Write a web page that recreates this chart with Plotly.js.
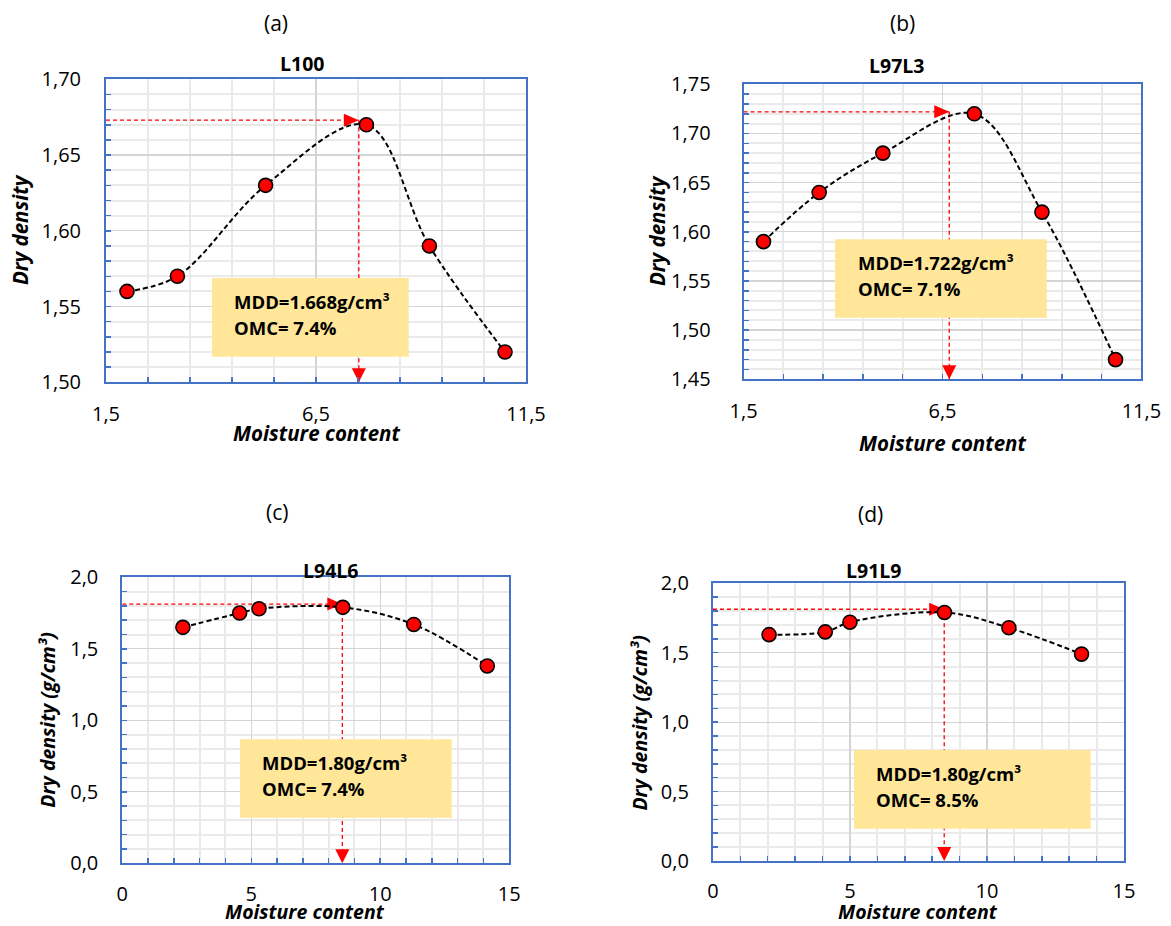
<!DOCTYPE html>
<html>
<head>
<meta charset="utf-8">
<script src="https://cdn.plot.ly/plotly-3.0.1.min.js"></script>
<style>
  html, body { margin: 0; padding: 0; background: #ffffff; }
  #chart { width: 1171px; height: 926px; }
</style>
</head>
<body>
<div id="chart"></div>
<script>
// Proctor compaction curves: dry density against moisture content for four mixes
const mixes = ['L100', 'L97L3', 'L94L6', 'L91L9'];
const panelTags = ['(a)', '(b)', '(c)', '(d)'];

const moistureL100 = [2.0, 3.2, 5.3, 7.7, 9.2, 11.0];
const densityL100  = [1.56, 1.57, 1.63, 1.67, 1.59, 1.52];

const moistureL97L3 = [2.0, 3.4, 5.0, 7.3, 9.0, 10.85];
const densityL97L3  = [1.59, 1.64, 1.68, 1.72, 1.62, 1.47];

const moistureL94L6 = [2.35, 4.55, 5.3, 8.55, 11.3, 14.15];
const densityL94L6  = [1.65, 1.75, 1.78, 1.79, 1.67, 1.38];

const moistureL91L9 = [2.05, 4.1, 5.0, 8.45, 10.8, 13.45];
const densityL91L9  = [1.63, 1.65, 1.72, 1.79, 1.68, 1.49];

// Optimum read-off guides (dry density level, moisture level)
const mddGuide = [1.673, 1.722, 1.813, 1.813];
const omcGuide = [7.52, 6.67, 8.53, 8.44];

// Result boxes
const mddText = ['1.668', '1.722', '1.80', '1.80'];
const omcText = ['7.4', '7.1', '7.4', '8.5'];

// Axes
const xTitles = ['Moisture content', 'Moisture content', 'Moisture content', 'Moisture content'];
const yTitles = ['Dry density', 'Dry density', 'Dry density (g/cm³)', 'Dry density (g/cm³)'];
const xRanges = [[1.5, 11.5], [1.5, 11.5], [0, 15], [0, 15]];
const yRanges = [[1.50, 1.70], [1.45, 1.75], [0, 2], [0, 2]];
const xMajor = [5, 5, 5, 5];
const xMinor = [1, 1, 1, 1];
const yMajor = [0.05, 0.05, 0.5, 0.5];
const yMinor = [0.01, 0.01, 0.1, 0.1];
const xFormats = ['.1f', '.1f', 'd', 'd'];
const yFormats = ['.2f', '.2f', '.1f', '.1f'];

const moisture = [moistureL100, moistureL97L3, moistureL94L6, moistureL91L9];
const density = [densityL100, densityL97L3, densityL94L6, densityL91L9];

// ---- layout geometry (pixels in a 1171 x 926 page) ----
const W = 1171, H = 926;
const fx = x => x / W;
const fy = y => 1 - y / H;

const frames = [
  { l: 106,   r: 526,    t: 79.3,  b: 382.3 },
  { l: 743.6, r: 1141.4, t: 84.3,  b: 379.3 },
  { l: 122.3, r: 509.2,  t: 577.3, b: 863.3 },
  { l: 712.9, r: 1124,   t: 583.3, b: 861 }
];
const tagPos    = [[276, 23], [902, 23], [277, 512], [870, 514]];
const namePos   = [[301.7, 64], [896.9, 65], [330, 570], [873.2, 570]];
const xTitlePos = [[316, 433.3], [942.7, 443.3], [305, 911.5], [918, 911.5]];
const yTitlePos = [[20, 230], [657, 231], [46.7, 720], [639.3, 723.3]];
const titleSize = [20.5, 20.5, 19.5, 19.5];
const boxRects  = [[212, 278, 408.7, 356.7], [834.9, 239.3, 1046.7, 317.7],
                   [240, 739.3, 451.7, 817.7], [854, 750, 1090.7, 828.7]];
const boxLines  = [[231.7, 301.7, 327.3], [855.5, 262.7, 288.3],
                   [260, 762.7, 788.3], [874, 773.3, 799.3]];
const yLabelGap = [19, 27, 18, 18];
const xLabelGap = [13, 13, 12, 11];

const FONT = 'Open Sans, sans-serif';
const BLUE = '#4472C4';
const RED = '#FF0000';

const traces = [];
const shapes = [];
const annotations = [];
const layout = {
  width: W, height: H,
  margin: { l: 0, r: 0, t: 0, b: 0 },
  paper_bgcolor: '#ffffff',
  plot_bgcolor: '#ffffff',
  showlegend: false,
  separators: ', ',
  font: { family: FONT, color: '#000000' }
};

for (let i = 0; i < 4; i++) {
  const sfx = i === 0 ? '' : String(i + 1);
  const xa = 'x' + sfx, ya = 'y' + sfx;
  const f = frames[i];

  const common = {
    ticks: 'inside', ticklen: 5, tickwidth: 1.5, tickcolor: BLUE,
    showline: true, linecolor: BLUE, linewidth: 2, mirror: true,
    showgrid: true, gridcolor: '#D4D4D4', gridwidth: 1.3,
    zeroline: false, fixedrange: true,
    tickfont: { family: FONT, size: 20, color: '#000000' }
  };
  const minorGrid = { ticks: 'inside', ticklen: 5, tickwidth: 1.5, tickcolor: BLUE,
                      showgrid: true, gridcolor: '#EAEAEA', gridwidth: 2 };

  layout['xaxis' + sfx] = Object.assign({}, common, {
    domain: [fx(f.l), fx(f.r)],
    anchor: ya,
    range: xRanges[i],
    tickmode: 'linear', tick0: xRanges[i][0], dtick: xMajor[i],
    tickformat: xFormats[i],
    ticklabelstandoff: xLabelGap[i],
    minor: Object.assign({ tick0: xRanges[i][0], dtick: xMinor[i] }, minorGrid)
  });
  layout['yaxis' + sfx] = Object.assign({}, common, {
    domain: [fy(f.b), fy(f.t)],
    anchor: xa,
    range: yRanges[i],
    tickmode: 'linear', tick0: yRanges[i][0], dtick: yMajor[i],
    tickformat: yFormats[i],
    ticklabelstandoff: yLabelGap[i],
    minor: Object.assign({ tick0: yRanges[i][0], dtick: yMinor[i] }, minorGrid)
  });

  // optimum guide lines, dashed red
  const y0 = yRanges[i][0], x0 = xRanges[i][0];
  shapes.push({
    type: 'line', xref: xa, yref: ya, layer: 'between',
    x0: x0, x1: omcGuide[i], y0: mddGuide[i], y1: mddGuide[i],
    line: { color: RED, width: 1.3, dash: '4px,3px' }
  });
  shapes.push({
    type: 'line', xref: xa, yref: ya, layer: 'between',
    x0: omcGuide[i], x1: omcGuide[i], y0: mddGuide[i], y1: y0,
    line: { color: RED, width: 1.3, dash: '4px,3px' }
  });
  // arrow heads (pixel-sized, anchored at the guide ends)
  shapes.push({
    type: 'path', xref: xa, yref: ya, layer: 'between',
    xsizemode: 'pixel', ysizemode: 'pixel',
    xanchor: omcGuide[i], yanchor: mddGuide[i],
    path: 'M-15,-6.5 L-15,6.5 L0,0 Z',
    fillcolor: RED, line: { width: 0 }
  });
  shapes.push({
    type: 'path', xref: xa, yref: ya, layer: 'between',
    xsizemode: 'pixel', ysizemode: 'pixel',
    xanchor: omcGuide[i], yanchor: y0,
    path: 'M-7,14 L7,14 L0,0 Z',
    fillcolor: RED, line: { width: 0 }
  });

  // compaction curve
  traces.push({
    type: 'scatter', mode: 'lines+markers',
    x: moisture[i], y: density[i], xaxis: xa, yaxis: ya,
    line: { color: '#000000', width: 2, dash: '5px,3px', shape: 'spline', smoothing: 1 },
    marker: { size: 14, color: RED, line: { color: '#000000', width: 1.6 } },
    cliponaxis: false,
    hoverinfo: 'skip'
  });

  // result box
  const b = boxRects[i];
  shapes.push({
    type: 'rect', xref: 'paper', yref: 'paper', layer: 'above',
    x0: fx(b[0]), x1: fx(b[2]), y0: fy(b[3]), y1: fy(b[1]),
    fillcolor: '#FFE699', line: { width: 0 }
  });
  const bl = boxLines[i];
  const boxFont = { family: FONT, size: 18.5, color: '#000000', weight: 700 };
  annotations.push({
    xref: 'paper', yref: 'paper', x: fx(bl[0]), y: fy(bl[1]),
    xanchor: 'left', yanchor: 'middle', showarrow: false,
    text: 'MDD=' + mddText[i] + 'g/cm³', font: boxFont
  });
  annotations.push({
    xref: 'paper', yref: 'paper', x: fx(bl[0]), y: fy(bl[2]),
    xanchor: 'left', yanchor: 'middle', showarrow: false,
    text: 'OMC= ' + omcText[i] + '%', font: boxFont
  });

  // panel tag and mix name
  annotations.push({
    xref: 'paper', yref: 'paper', x: fx(tagPos[i][0]), y: fy(tagPos[i][1]),
    xanchor: 'center', yanchor: 'middle', showarrow: false,
    text: panelTags[i], font: { family: FONT, size: 21, color: '#000000' }
  });
  annotations.push({
    xref: 'paper', yref: 'paper', x: fx(namePos[i][0]), y: fy(namePos[i][1]),
    xanchor: 'center', yanchor: 'middle', showarrow: false,
    text: mixes[i], font: { family: FONT, size: 19.5, color: '#000000', weight: 700 }
  });

  // axis titles
  const titleFont = { family: FONT, size: titleSize[i], color: '#000000', weight: 700, style: 'italic' };
  annotations.push({
    xref: 'paper', yref: 'paper', x: fx(xTitlePos[i][0]), y: fy(xTitlePos[i][1]),
    xanchor: 'center', yanchor: 'middle', showarrow: false, borderpad: 0,
    text: xTitles[i], font: titleFont
  });
  annotations.push({
    xref: 'paper', yref: 'paper', x: fx(yTitlePos[i][0]), y: fy(yTitlePos[i][1]),
    xanchor: 'center', yanchor: 'middle', showarrow: false, textangle: -90,
    text: yTitles[i], font: titleFont
  });
}

layout.shapes = shapes;
layout.annotations = annotations;

Plotly.newPlot('chart', traces, layout, { displayModeBar: false, staticPlot: true });
</script>
</body>
</html>
